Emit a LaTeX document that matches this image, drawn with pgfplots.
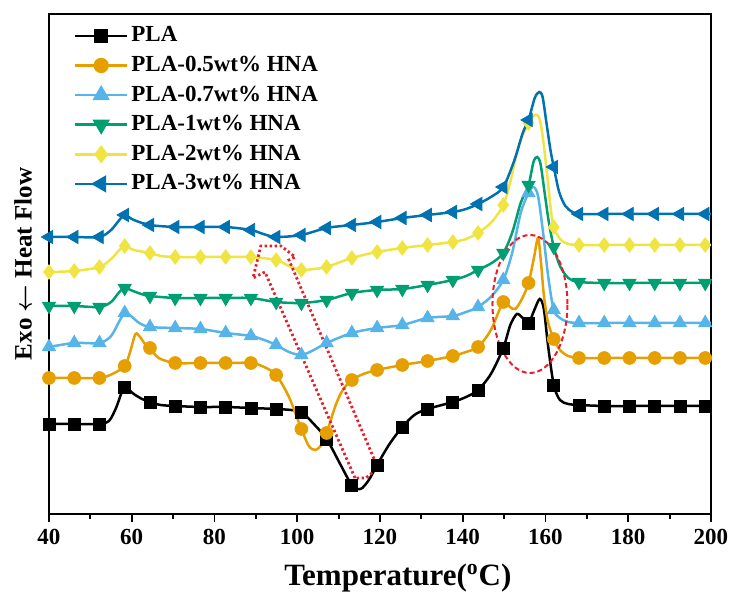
\documentclass[border=0pt]{standalone}
\usepackage{fontspec}
\setmainfont{Liberation Serif}
\usepackage{pgfplots}
\pgfplotsset{compat=1.18}
\definecolor{cOr}{HTML}{E69F00}
\definecolor{cLb}{HTML}{56B4E9}
\definecolor{cGr}{HTML}{009E73}
\definecolor{cYe}{HTML}{F0E442}
\definecolor{cBl}{HTML}{0072B2}
\definecolor{cRed}{RGB}{232,30,40}
\begin{document}
\begin{tikzpicture}
\begin{axis}[
  scale only axis, width=331pt, height=250pt,
  xmin=40, xmax=200, ymin=-514, ymax=-14,
  xtick={40,60,...,200}, minor x tick num=1,
  ytick=\empty,
  xtick pos=left, tick align=outside,
  major tick length=4pt, minor tick length=2.5pt,
  every tick/.style={line width=0.9pt, black},
  axis line style={line width=1pt},
  /pgf/number format/assume math mode=true,
  xticklabel style={font=\bfseries\fontsize{11.5}{13}\selectfont},
  xlabel={Temperature(\textsuperscript{o}C)},
  xlabel style={font=\bfseries\fontsize{15.5}{18}\selectfont, at={(axis description cs:0.527,0)}, anchor=center, yshift=-32pt},
  ylabel={Exo {\boldmath$\leftarrow$} Heat Flow},
  ylabel style={font=\bfseries\fontsize{12.5}{15}\selectfont, at={(axis description cs:-0.039,0.5)}, anchor=center, rotate=0},
  legend cell align=left,
  legend style={draw=none, fill=none, at={(0.028,0.993)}, anchor=north west,
    font=\bfseries\fontsize{11.5}{13}\selectfont, row sep=0.8pt,
    nodes={text height=8.5pt, text depth=2.5pt, inner sep=1.5pt}},
  legend image code/.code={\draw[mark repeat=2,mark phase=2] plot coordinates {(0pt,0pt) (13pt,0pt) (26pt,0pt)};},
]
% ---------- PLA ----------
\addplot[black, line width=1.25pt, smooth, forget plot] coordinates {
(40,-424)(46.1,-424)(52.2,-424)(54.5,-421)(56.2,-408)(57.5,-393)(58.3,-387)(60.5,-394)(62.5,-399)(64.4,-402)(67,-405)(70.5,-406)(76.6,-407)(82.7,-407)(88.8,-408)(94.9,-409)(98.5,-410)(101,-412)(104,-424)(107.1,-439)(110.5,-465)(113.2,-485)(115.3,-489)(117.3,-480)(119.3,-465)(122.3,-444)(125.4,-427)(128.3,-415)(131.5,-409)(137.6,-402)(140.8,-397)(143.7,-390)(146.8,-374)(149.8,-348)(151.5,-325)(153.1,-314)(154.5,-318)(155.9,-323)(157.2,-311)(158.6,-299)(159.6,-309)(160.6,-345)(162,-385)(163.5,-400)(165.5,-404)(168.1,-405)(174.2,-406)(180.3,-406)(186.4,-406)(192.5,-406)(198.6,-406)(200,-406)};
\addplot[black, only marks, mark=square*, mark size=3pt, forget plot] coordinates {
(40,-424)(46.1,-424)(52.2,-424)(58.3,-387)(64.4,-402)(70.5,-406)(76.6,-407)(82.7,-407)(88.8,-408)(94.9,-409)(101,-412)(107.1,-439)(113.2,-485)(119.3,-465)(125.4,-427)(131.5,-409)(137.6,-402)(143.7,-390)(149.8,-348)(155.9,-323)(162,-385)(168.1,-405)(174.2,-406)(180.3,-406)(186.4,-406)(192.5,-406)(198.6,-406)};
\addlegendimage{black, line width=1.25pt, mark=square*, mark size=3pt}
\addlegendentry{PLA}
% ---------- 0.5 ----------
\addplot[cOr, line width=1.25pt, smooth, forget plot] coordinates {
(40,-378)(46.1,-378)(52.2,-378)(55.3,-374)(58.3,-366)(59.6,-352)(60.9,-334)(62,-337)(63.2,-344)(64.4,-348)(66.5,-358)(70.5,-363)(76.6,-363)(82.7,-363)(88.8,-363)(92,-367)(94.9,-375)(98,-397)(101,-429)(102.8,-446)(104.4,-450)(105.8,-445)(107.1,-433)(109.3,-405)(111,-390)(113.2,-380)(116,-374)(119.3,-370)(125.4,-365)(131.5,-361)(137.6,-356)(140.8,-352)(143.7,-347)(146.8,-330)(149.8,-302)(151.4,-307)(152.7,-309)(154.3,-299)(155.9,-283)(157.2,-258)(158.2,-238)(158.9,-262)(159.6,-295)(160.6,-322)(162,-339)(163.5,-350)(165.5,-356)(168.1,-358)(174.2,-358)(180.3,-358)(186.4,-358)(192.5,-358)(198.6,-358)(200,-358)};
\addplot[cOr, only marks, mark=*, mark size=3.2pt, forget plot] coordinates {
(40,-378)(46.1,-378)(52.2,-378)(58.3,-366)(64.4,-348)(70.5,-363)(76.6,-363)(82.7,-363)(88.8,-363)(94.9,-375)(101,-429)(107.1,-433)(113.2,-380)(119.3,-370)(125.4,-365)(131.5,-361)(137.6,-356)(143.7,-347)(149.8,-302)(155.9,-283)(162,-339)(168.1,-358)(174.2,-358)(180.3,-358)(186.4,-358)(192.5,-358)(198.6,-358)};
\addlegendimage{cOr, line width=1.25pt, mark=*, mark size=3.2pt}
\addlegendentry{PLA-0.5wt\% HNA}
% ---------- 0.7 ----------
\addplot[cLb, line width=1.25pt, smooth, forget plot] coordinates {
(40,-347)(46.1,-343)(52.2,-343)(55,-336)(56.9,-322)(58.3,-313)(59.8,-316)(61.8,-323)(64.4,-327)(70.5,-328)(76.6,-329)(82.7,-333)(88.8,-336)(92,-340)(94.9,-345)(98,-352)(101,-355)(104,-350)(107.1,-343)(113.2,-333)(119.3,-328)(125.4,-325)(131.5,-318)(137.6,-316)(140.8,-312)(143.7,-307)(147,-296)(149.8,-280)(152,-252)(154,-213)(155.9,-193)(157.1,-187)(158.2,-196)(159.4,-232)(160.7,-278)(162,-310)(163.5,-318)(165.5,-322)(168.1,-323)(174.2,-323)(180.3,-323)(186.4,-323)(192.5,-323)(198.6,-323)(200,-323)};
\addplot[cLb, only marks, mark=triangle*, mark size=3.8pt, forget plot] coordinates {
(40,-347)(46.1,-343)(52.2,-343)(58.3,-313)(64.4,-327)(70.5,-328)(76.6,-329)(82.7,-333)(88.8,-336)(94.9,-345)(101,-355)(107.1,-343)(113.2,-333)(119.3,-328)(125.4,-325)(131.5,-318)(137.6,-316)(143.7,-307)(149.8,-280)(155.9,-193)(162,-310)(168.1,-323)(174.2,-323)(180.3,-323)(186.4,-323)(192.5,-323)(198.6,-323)};
\addlegendimage{cLb, line width=1.25pt, mark=triangle*, mark size=3.8pt}
\addlegendentry{PLA-0.7wt\% HNA}
% ---------- 1 ----------
\addplot[cGr, line width=1.25pt, smooth, forget plot] coordinates {
(40,-306)(46.1,-306)(52.2,-307)(55,-302)(57,-292)(58.3,-288)(60.3,-291)(62.3,-294)(64.4,-296)(70.5,-298)(76.6,-298)(82.7,-298)(88.8,-298)(94.9,-302)(101,-303)(107.1,-300)(113.2,-293)(119.3,-290)(125.4,-289)(131.5,-285)(137.6,-280)(140.8,-276)(143.7,-270)(147,-263)(149.8,-253)(152,-232)(154,-203)(155.9,-185)(157.1,-162)(158,-157)(158.8,-164)(159.8,-193)(160.8,-222)(162,-247)(163.5,-266)(165.5,-278)(168.1,-282)(174.2,-283)(180.3,-283)(186.4,-283)(192.5,-283)(198.6,-283)(200,-283)};
\addplot[cGr, only marks, mark=triangle*, mark size=3.8pt, mark options={rotate=180}, forget plot] coordinates {
(40,-306)(46.1,-306)(52.2,-307)(58.3,-288)(64.4,-296)(70.5,-298)(76.6,-298)(82.7,-298)(88.8,-298)(94.9,-302)(101,-303)(107.1,-300)(113.2,-293)(119.3,-290)(125.4,-289)(131.5,-285)(137.6,-280)(143.7,-270)(149.8,-253)(155.9,-185)(162,-247)(168.1,-282)(174.2,-283)(180.3,-283)(186.4,-283)(192.5,-283)(198.6,-283)};
\addlegendimage{cGr, line width=1.25pt, mark=triangle*, mark size=3.8pt, mark options={rotate=180}}
\addlegendentry{PLA-1wt\% HNA}
% ---------- 2 ----------
\addplot[cYe, line width=1.25pt, smooth, forget plot] coordinates {
(40,-272)(46.1,-271)(52.2,-267)(55,-259)(57,-250)(58.3,-246)(60.5,-250)(64.4,-253)(67,-256)(70.5,-257)(76.6,-257)(82.7,-257)(88.8,-257)(94.9,-260)(98,-266)(101,-270)(104,-269)(107.1,-267)(113.2,-258)(119.3,-252)(125.4,-248)(131.5,-245)(137.6,-242)(140.8,-239)(143.7,-233)(147,-222)(149.8,-205)(151.6,-180)(153.6,-145)(155.9,-123)(157.1,-116)(158,-115)(158.7,-121)(159.5,-142)(160.5,-178)(161.3,-210)(162,-227)(163.5,-239)(165.5,-244)(168.1,-245)(174.2,-245)(180.3,-245)(186.4,-245)(192.5,-245)(198.6,-245)(200,-245)};
\addplot[cYe, only marks, mark=diamond*, mark size=3.6pt, forget plot] coordinates {
(40,-272)(46.1,-271)(52.2,-267)(58.3,-246)(64.4,-253)(70.5,-257)(76.6,-257)(82.7,-257)(88.8,-257)(94.9,-260)(101,-270)(107.1,-267)(113.2,-258)(119.3,-252)(125.4,-248)(131.5,-245)(137.6,-242)(143.7,-233)(149.8,-205)(155.9,-123)(162,-227)(168.1,-245)(174.2,-245)(180.3,-245)(186.4,-245)(192.5,-245)(198.6,-245)};
\addlegendimage{cYe, line width=1.25pt, mark=diamond*, mark size=3.6pt}
\addlegendentry{PLA-2wt\% HNA}
% ---------- 3 ----------
\addplot[cBl, line width=1.25pt, smooth, forget plot] coordinates {
(40,-237)(46.1,-237)(52.2,-237)(55,-230)(57,-220)(58.3,-215)(60.5,-220)(64.4,-225)(70.5,-227)(76.6,-227)(82.7,-227)(88.8,-230)(91.8,-234)(94.9,-237)(101,-235)(107.1,-228)(113.2,-225)(119.3,-222)(125.4,-218)(131.5,-215)(137.6,-212)(140.8,-209)(143.7,-204)(146.8,-197)(149.8,-187)(152.5,-160)(154.5,-133)(155.9,-120)(157.4,-98)(158.5,-92)(159.3,-97)(160.2,-122)(161.2,-150)(162,-167)(163.3,-192)(164.8,-206)(166.5,-212)(168.1,-214)(174.2,-214)(180.3,-214)(186.4,-214)(192.5,-214)(198.6,-214)(200,-214)};
\addplot[cBl, only marks, mark=triangle*, mark size=3.8pt, mark options={rotate=90}, forget plot] coordinates {
(40,-237)(46.1,-237)(52.2,-237)(58.3,-215)(64.4,-225)(70.5,-227)(76.6,-227)(82.7,-227)(88.8,-230)(94.9,-237)(101,-235)(107.1,-228)(113.2,-225)(119.3,-222)(125.4,-218)(131.5,-215)(137.6,-212)(143.7,-204)(149.8,-187)(155.9,-120)(162,-167)(168.1,-214)(174.2,-214)(180.3,-214)(186.4,-214)(192.5,-214)(198.6,-214)};
\addlegendimage{cBl, line width=1.25pt, mark=triangle*, mark size=3.8pt, mark options={rotate=90}}
\addlegendentry{PLA-3wt\% HNA}
% ---------- annotations ----------
\draw[cRed, line width=1pt, dash pattern=on 2.5pt off 1.5pt] (axis cs:156.25,-304) ellipse [x radius=18.75pt, y radius=34.5pt];
\draw[cRed, line width=1.4pt, dash pattern=on 1.2pt off 1.3pt] (axis cs:113.96,-478) -- (axis cs:92.2,-272) -- (axis cs:89.3,-278) -- (axis cs:91.2,-246) -- (axis cs:96.1,-246) -- (axis cs:99.5,-257) -- (axis cs:98.0,-260) -- (axis cs:119.5,-468) -- (axis cs:116.6,-478) -- cycle;
\end{axis}
\path (-24.5pt,-40pt) rectangle (346pt,257pt);
\end{tikzpicture}
\end{document}
